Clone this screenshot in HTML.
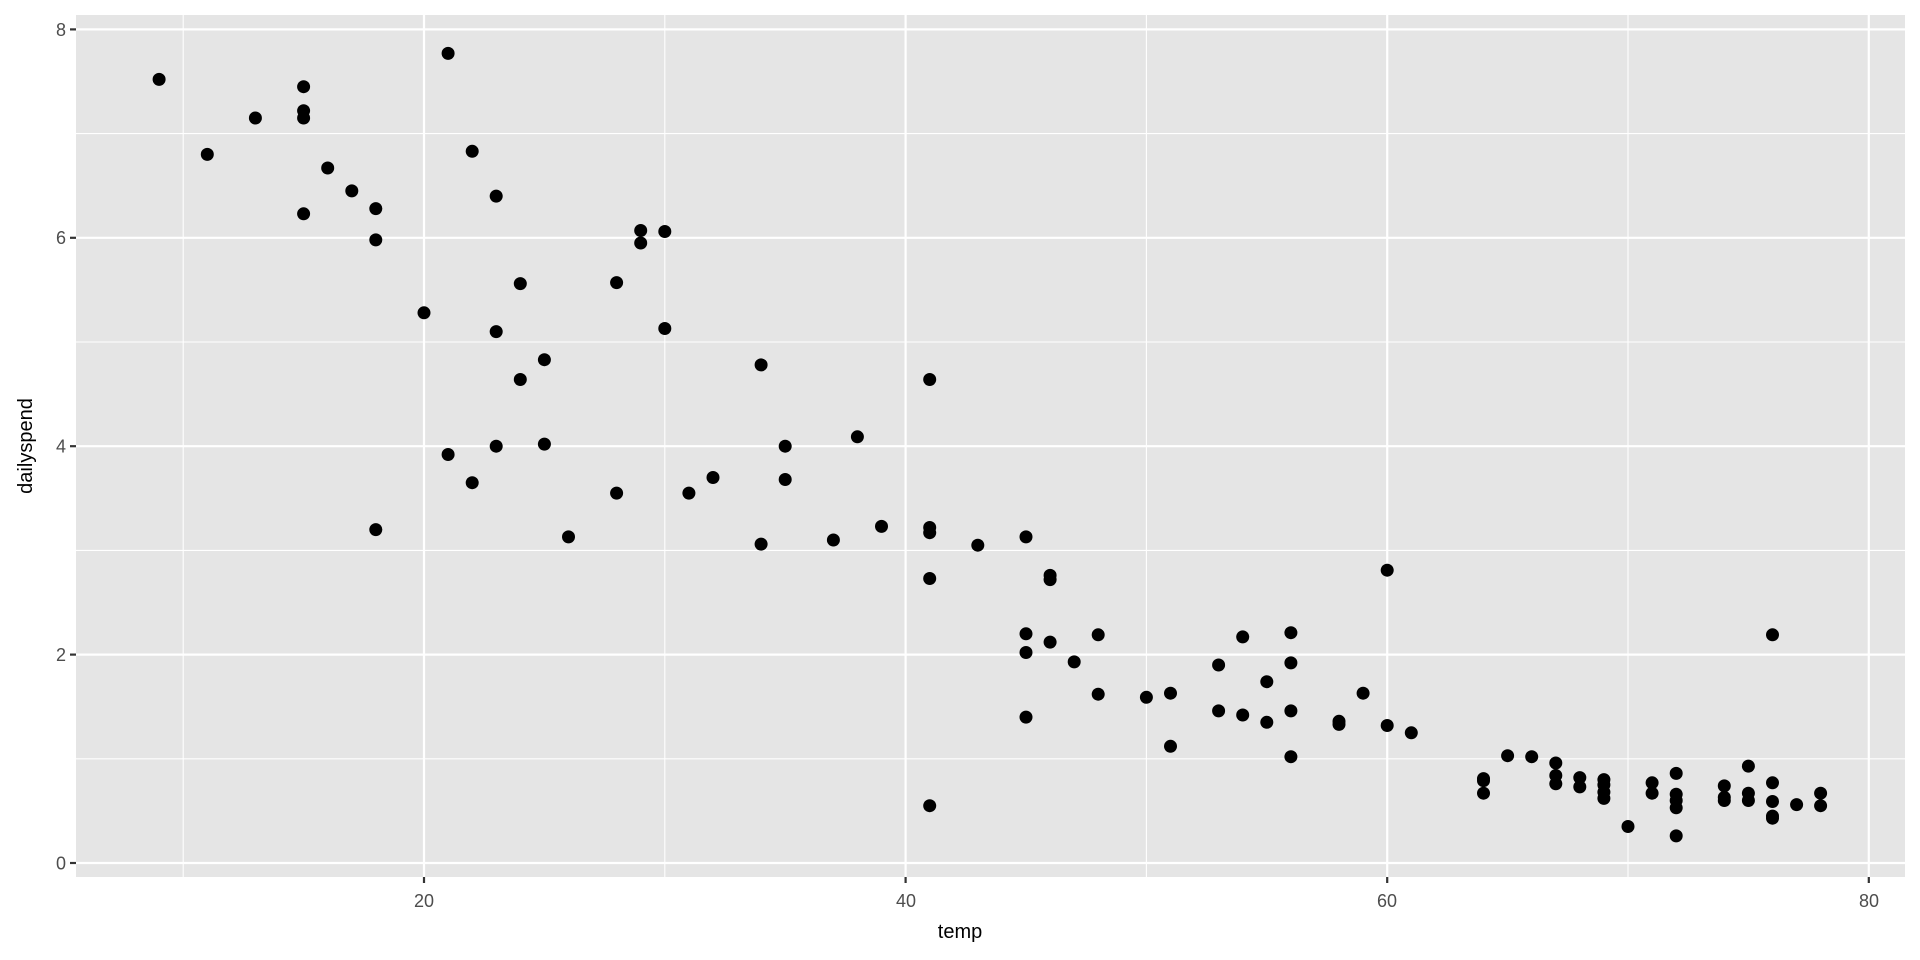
<!DOCTYPE html>
<html><head><meta charset="utf-8"><style>
html,body{margin:0;padding:0;background:#fff}
svg{display:block;font-family:"Liberation Sans",Arial,sans-serif}
</style></head><body>
<svg id="s" width="1920" height="960" viewBox="0 0 1920 960">
<rect x="0" y="0" width="1920" height="960" fill="#fff"/>
<rect x="76" y="15" width="1829" height="862" fill="#e5e5e5"/>
<g id="grid"></g>
<g id="pts"></g>
<g fill="#4d4d4d" font-size="18" text-anchor="middle">
<text x="424" y="907">20</text><text x="906" y="907">40</text><text x="1387" y="907">60</text><text x="1869" y="907">80</text>
</g>
<g fill="#4d4d4d" font-size="18" text-anchor="end">
<text x="66" y="869.5">0</text><text x="66" y="661">2</text><text x="66" y="452.5">4</text><text x="66" y="244">6</text><text x="66" y="36">8</text>
</g>
<text x="960" y="938" font-size="20" text-anchor="middle" fill="#000">temp</text>
<text transform="translate(32,446) rotate(-90)" font-size="20" text-anchor="middle" fill="#000">dailyspend</text>
</svg>
<script>
var X=function(t){return 424+(t-20)*24.08},Y=function(v){return 863-v*104.2};
var g=document.getElementById('grid'),p=document.getElementById('pts'),s='',q='';
[1,3,5,7].forEach(function(v){s+='<line x1="76" x2="1905" y1="'+Y(v)+'" y2="'+Y(v)+'" stroke="#fff" stroke-width="1.1"/>'});
[10,30,50,70].forEach(function(t){s+='<line y1="15" y2="877" x1="'+X(t)+'" x2="'+X(t)+'" stroke="#fff" stroke-width="1.1"/>'});
[0,2,4,6,8].forEach(function(v){s+='<line x1="76" x2="1905" y1="'+Y(v)+'" y2="'+Y(v)+'" stroke="#fff" stroke-width="2.2"/><line x1="70" x2="76" y1="'+Y(v)+'" y2="'+Y(v)+'" stroke="#333" stroke-width="2.2"/>'});
[20,40,60,80].forEach(function(t){s+='<line y1="15" y2="877" x1="'+X(t)+'" x2="'+X(t)+'" stroke="#fff" stroke-width="2.2"/><line y1="877" y2="883" x1="'+X(t)+'" x2="'+X(t)+'" stroke="#333" stroke-width="2.2"/>'});
g.innerHTML=s;
var d=[[9,7.52],[11,6.8],[13,7.15],[15,7.45],[15,7.22],[15,7.15],[15,6.23],[16,6.67],[17,6.45],[18,6.28],[18,5.98],[18,3.2],[20,5.28],[21,7.77],[21,3.92],[22,6.83],[22,3.65],[23,6.4],[23,5.1],[23,4.0],[24,5.56],[24,4.64],[25,4.83],[25,4.02],[26,3.13],[28,5.57],[28,3.55],[29,6.07],[29,5.95],[30,6.06],[30,5.13],[31,3.55],[32,3.7],[34,4.78],[34,3.06],[35,4.0],[35,3.68],[37,3.1],[38,4.09],[39,3.23],[41,4.64],[41,3.22],[41,3.17],[41,2.73],[41,0.55],[43,3.05],[45,3.13],[45,2.2],[45,2.02],[45,1.4],[46,2.76],[46,2.72],[46,2.12],[47,1.93],[48,2.19],[48,1.62],[50,1.59],[51,1.63],[51,1.12],[53,1.9],[53,1.46],[54,2.17],[54,1.42],[55,1.74],[55,1.35],[56,2.21],[56,1.92],[56,1.46],[56,1.02],[58,1.36],[58,1.33],[59,1.63],[60,2.81],[60,1.32],[61,1.25],[64,0.81],[64,0.79],[64,0.67],[65,1.03],[66,1.02],[67,0.96],[67,0.84],[67,0.76],[68,0.82],[68,0.73],[69,0.8],[69,0.75],[69,0.68],[69,0.62],[70,0.35],[71,0.77],[71,0.67],[72,0.86],[72,0.66],[72,0.6],[72,0.53],[72,0.26],[74,0.74],[74,0.63],[74,0.6],[75,0.93],[75,0.67],[75,0.6],[76,2.19],[76,0.77],[76,0.59],[76,0.45],[76,0.43],[77,0.56],[78,0.67],[78,0.55]];
d.forEach(function(a){q+='<circle cx="'+X(a[0]).toFixed(1)+'" cy="'+Y(a[1]).toFixed(1)+'" r="6.5" fill="#000"/>'});
p.innerHTML=q;
</script>
</body></html>
